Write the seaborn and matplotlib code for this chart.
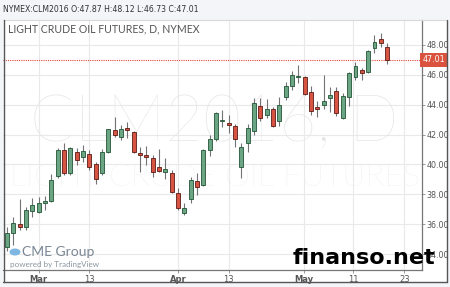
import matplotlib
matplotlib.use("Agg")
import matplotlib.pyplot as plt
import seaborn as sns
import numpy as np
import pandas as pd
from matplotlib.patches import Rectangle, Circle
from matplotlib.lines import Line2D

# ---- data ----
opens = [34.49, 35.42, 35.99, 35.83, 36.90, 36.83, 37.44, 37.55, 39.23, 40.97,
         39.45, 40.85, 40.48, 40.70, 40.03, 39.41, 40.85, 42.31, 41.86, 42.44,
         42.19, 40.79, 40.63, 40.43, 39.81, 39.51, 39.45, 38.07, 36.77, 37.66,
         38.89, 38.62, 40.97, 41.68, 42.91, 42.80, 42.57, 39.85, 41.42, 42.26,
         43.92, 43.31, 43.69, 42.91, 44.54, 45.25, 45.84, 45.84, 44.87, 43.83,
         43.98, 44.43, 44.92, 43.13, 44.54, 45.88, 46.33, 46.21, 47.82, 48.40,
         47.87]
highs = [35.83, 36.50, 37.68, 37.17, 37.73, 37.84, 37.89, 39.36, 41.10, 41.42,
         41.19, 41.08, 41.30, 40.97, 40.18, 41.00, 42.40, 43.16, 42.64, 42.82,
         42.26, 41.19, 41.23, 40.63, 41.01, 40.41, 39.63, 38.40, 37.40, 39.14,
         39.45, 41.00, 41.97, 43.53, 43.65, 43.31, 42.71, 41.42, 42.71, 44.43,
         44.43, 44.36, 43.82, 44.54, 45.54, 46.28, 46.66, 45.92, 45.25, 44.27,
         45.99, 45.21, 45.21, 44.75, 46.20, 46.88, 46.44, 47.65, 48.67, 48.82,
         48.12]
lows = [34.20, 34.60, 35.60, 35.61, 36.46, 36.77, 36.95, 37.50, 39.10, 39.29,
        39.30, 39.96, 40.18, 39.63, 38.69, 39.30, 40.75, 41.86, 41.64, 41.75,
        40.75, 39.51, 39.96, 39.14, 39.51, 39.00, 38.11, 36.95, 36.61, 37.40,
        37.95, 38.55, 40.57, 41.60, 42.53, 42.09, 41.19, 39.07, 40.85, 42.00,
        42.93, 43.09, 42.53, 42.57, 44.32, 45.00, 45.43, 44.65, 43.31, 43.20,
        43.69, 43.53, 43.24, 43.02, 43.91, 45.66, 45.66, 46.10, 47.48, 47.89,
        46.73]
closes = [35.43, 36.09, 35.79, 36.95, 37.28, 37.40, 37.55, 38.96, 40.97, 39.45,
          41.08, 40.30, 40.92, 39.83, 39.02, 40.81, 42.35, 41.97, 42.35, 42.33,
          40.85, 40.61, 40.52, 39.51, 39.58, 39.72, 38.17, 37.06, 37.06, 38.96,
          38.47, 40.95, 41.68, 43.43, 42.98, 42.62, 41.68, 41.17, 42.42, 44.14,
          43.09, 43.69, 42.57, 43.98, 45.25, 45.99, 45.88, 44.72, 43.60, 43.71,
          44.27, 44.63, 43.43, 44.61, 46.15, 46.59, 46.10, 47.62, 48.22, 48.11,
          47.01]
tick_pos = [5, 13, 27, 35, 46.8, 54.6, 62.7]
tick_labels = ["Mar", "13", "Apr", "13", "May", "11", "23"]
y_ticks = [34, 36, 38, 40, 42, 44, 46, 48]
last_price = 47.01
header = "NYMEX:CLM2016 O:47.87 H:48.12 L:46.73 C:47.01"
title = "LIGHT CRUDE OIL FUTURES, D, NYMEX"

df = pd.DataFrame({"open": opens, "high": highs, "low": lows, "close": closes})
df["idx"] = np.arange(len(df))
df["up"] = df["close"] >= df["open"]

sns.set_theme(style="white")
W, H = 450, 287
fig = plt.figure(figsize=(W / 100, H / 100), dpi=100)
fig.patch.set_facecolor("#f3f5f8")

def fx(px):
    return px / W

def fy(py):
    return 1 - py / H

# white widget background
fig.patches.append(Rectangle((fx(3), fy(282)), fx(444), 262 / H, transform=fig.transFigure,
                             facecolor="white", edgecolor="none", zorder=-5))

ax = fig.add_axes([fx(3), fy(270), fx(419), 250 / H])
ax.set_zorder(1)
ax.set_facecolor("white")
ax.set_xlim(-0.63, 65.5)
ax.set_ylim(32.93, 49.67)

# grid
for yt in y_ticks:
    ax.axhline(yt, color="#e9e9e9", lw=0.8, zorder=0)
for xt in tick_pos:
    ax.axvline(xt, color="#e9e9e9", lw=0.8, zorder=0)

# watermark
ax.text(0.505, 0.585, "CLM2016, D", transform=ax.transAxes, ha="center", va="center",
        fontsize=47, color="#e6e6e6", family="Lato", fontweight="light", zorder=0.5)
ax.text(0.505, 0.37, "LIGHT CRUDE OIL FUTURES", transform=ax.transAxes, ha="center",
        va="center", fontsize=23, color="#eaeaea", family="Lato", fontweight="light", zorder=0.5)

up_fill, up_edge = "#6ba583", "#225437"
dn_fill, dn_edge = "#d75442", "#5b1a13"
wick = "#737375"

ax.vlines(df["idx"], df["low"], df["high"], color=wick, lw=0.8, zorder=2)
body_bottom = np.minimum(df["open"], df["close"])
body_h = np.maximum(np.abs(df["close"] - df["open"]), 0.05)
colors = [up_fill if u else dn_fill for u in df["up"]]
edges = [up_edge if u else dn_edge for u in df["up"]]
ax.bar(df["idx"], body_h, bottom=body_bottom, width=0.62, color=colors,
       edgecolor=edges, linewidth=0.6, zorder=3)

# last price line
ax.axhline(last_price, color="#e0473a", lw=0.8, ls=(0, (1, 1)), zorder=1)

ax.set_xticks(tick_pos)
ax.set_xticklabels(tick_labels)
for lab in ax.get_xticklabels():
    lab.set_fontsize(6)
    lab.set_color("#555555")
    if lab.get_text() in ("Mar", "Apr", "May"):
        lab.set_fontweight("bold")
ax.yaxis.tick_right()
ax.set_yticks(y_ticks)
ax.set_yticklabels([f"{v:.2f}" for v in y_ticks])
ax.tick_params(axis="y", labelsize=5.8, labelcolor="#555555", length=2, width=0.6,
               color="#888888", pad=1.5, right=True)
ax.tick_params(axis="x", length=2, width=0.6, color="#888888", pad=1.5, bottom=True)

for s in ["top", "left"]:
    ax.spines[s].set_visible(False)
ax.spines["right"].set_color("#777777")
ax.spines["right"].set_linewidth(0.9)
ax.spines["bottom"].set_color("#777777")
ax.spines["bottom"].set_linewidth(0.9)

# last price label
ax.annotate(f"{last_price:.2f}", xy=(1.0, last_price), xycoords=("axes fraction", "data"),
            xytext=(8.8, 0), textcoords="offset points", ha="center", va="center",
            fontsize=5.8, color="white",
            bbox=dict(boxstyle="square,pad=0.3", fc="#d9533f", ec="none"),
            annotation_clip=False)

# top light border + frame
fig.add_artist(Line2D([fx(3), fx(446)], [fy(20), fy(20)], color="#d8d8d8", lw=0.8))
fig.add_artist(Line2D([fx(3.5), fx(3.5)], [fy(20), fy(282)], color="#555555", lw=1.0))
fig.add_artist(Line2D([fx(3), fx(446.5)], [fy(282), fy(282)], color="#555555", lw=1.0))
fig.add_artist(Line2D([fx(446.5), fx(446.5)], [fy(20), fy(282)], color="#555555", lw=1.0))

# header and title
fig.text(fx(3), fy(10), header, fontsize=5.6, color="#333333", va="center", ha="left")
fig.text(fx(8), fy(29), title, fontsize=7.6, color="#555555", va="center", ha="left",
         family="Lato", zorder=5)

# logo
fig.patches.append(Circle((fx(15), fy(252)), 5.5 / W, transform=fig.transFigure,
                          facecolor="#7fb6e2", edgecolor="none", zorder=5))
fig.text(fx(22), fy(252), "CME Group", fontsize=10, color="#7a8794", va="center",
         ha="left", family="Lato", zorder=5)
fig.text(fx(10), fy(264.5), "powered by TradingView", fontsize=5.8, color="#8a96a0",
         va="center", ha="left", family="Lato", zorder=5)

# site watermark
fig.text(fx(435), fy(258), "finanso.net", fontsize=16, fontweight="bold", color="black",
         va="center", ha="right", family="DejaVu Sans", zorder=5)

fig.savefig("out.png", dpi=100, facecolor=fig.get_facecolor())
